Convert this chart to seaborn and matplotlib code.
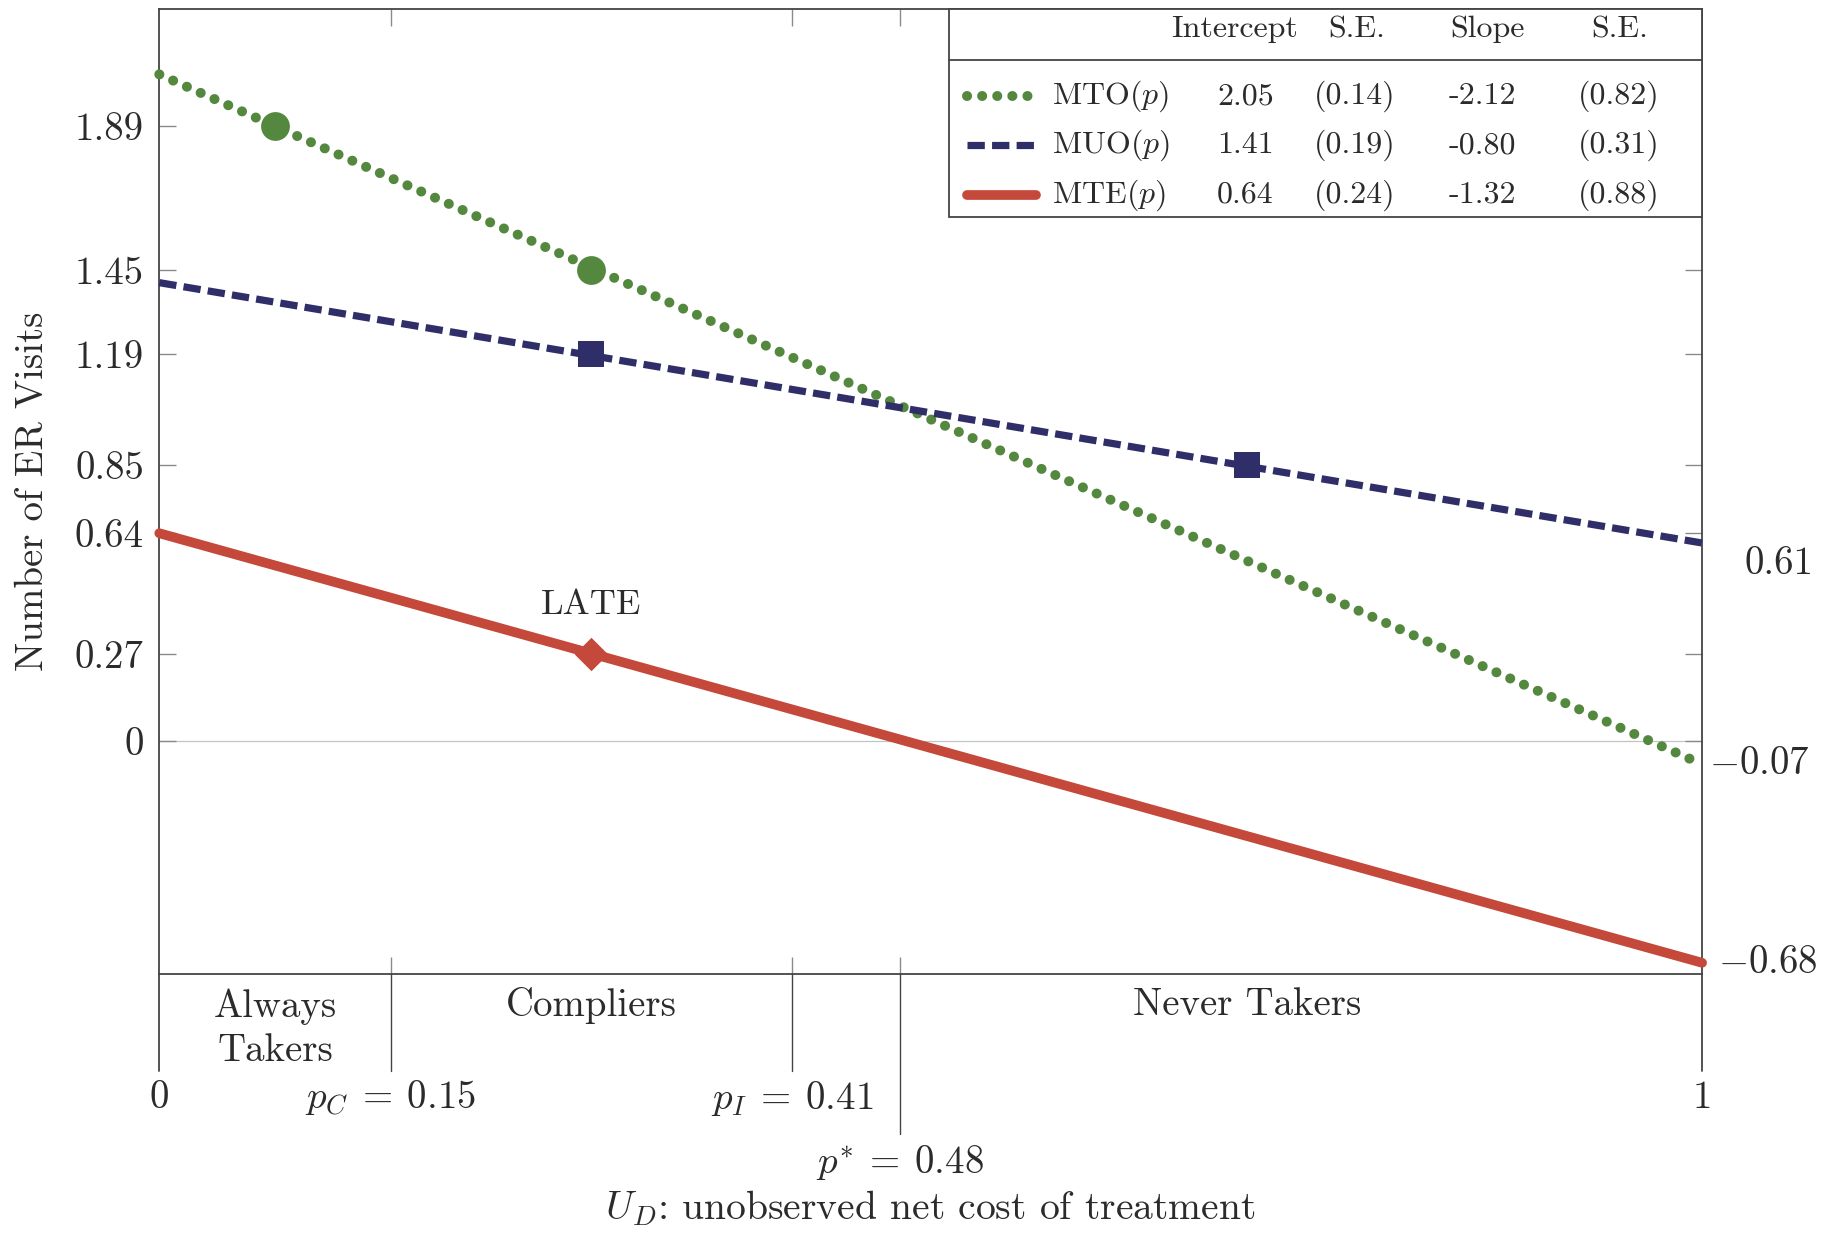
import matplotlib
matplotlib.use("Agg")
import matplotlib.pyplot as plt
from matplotlib.patches import Rectangle
from matplotlib.lines import Line2D
import pandas as pd
import seaborn as sns

# ---- curve values at the ends of the unit interval ----
p_ends = [0.0, 1.0]
mto_ends = [2.05, -0.07]
muo_ends = [1.41, 0.61]
mte_ends = [0.64, -0.68]

# ---- evaluated points at the group midpoints ----
mto_pts_p = [0.075, 0.28]
mto_pts_y = [1.89, 1.45]
muo_pts_p = [0.28, 0.705]
muo_pts_y = [1.19, 0.85]
late_p = [0.28]
late_y = [0.27]

# ---- estimates table ----
row_names = ["MTO", "MUO", "MTE"]
intercepts = ["2.05", "1.41", "0.64"]
intercept_se = ["(0.14)", "(0.19)", "(0.24)"]
slopes = ["-2.12", "-0.80", "-1.32"]
slope_se = ["(0.82)", "(0.31)", "(0.88)"]

# ---- axes annotations ----
y_ticks = [0, 0.27, 0.64, 0.85, 1.19, 1.45, 1.89]
y_tick_labels = ["0", "0.27", "0.64", "0.85", "1.19", "1.45", "1.89"]
cutoffs = [0.15, 0.41, 0.48]
cutoff_labels = [r"$p_C\:=\:0.15$", r"$p_I\:=\:0.41$", r"$p^{*}\:=\:0.48$"]
groups = ["Always\nTakers", "Compliers", "Never Takers"]
group_mid = [0.075, 0.28, 0.705]

GREEN = "#55883F"
NAVY = "#2F2E68"
RED = "#C5493A"
TEXT = "#2b2b2b"
SPINE = "#444444"
TICK = "#8a8a8a"

sns.set_theme(style="ticks")
plt.rcParams["font.family"] = ["cmr10", "DejaVu Serif"]
plt.rcParams["mathtext.fontset"] = "cm"
plt.rcParams["axes.unicode_minus"] = False
plt.rcParams["axes.formatter.use_mathtext"] = True

fig = plt.figure(figsize=(18.23, 12.33), dpi=100)
ax = fig.add_axes([0.08737, 0.21018, 0.8463, 0.78228])
ax.set_xlim(0, 1)
ax.set_ylim(-0.714, 2.25)

# zero reference line
ax.axhline(0, color="#c4c4c4", lw=0.9, zorder=0)

df = pd.DataFrame({
    "p": p_ends * 3,
    "value": mto_ends + muo_ends + mte_ends,
    "curve": ["MTO"] * 2 + ["MUO"] * 2 + ["MTE"] * 2,
})

line_styles = {
    "MTO": dict(color=GREEN, lw=7.2, ls=(0, (0.01, 1.5)), cap="round"),
    "MUO": dict(color=NAVY, lw=5.2, ls=(0, (2.4, 1.0)), cap="butt"),
    "MTE": dict(color=RED, lw=7.0, ls="-", cap="round"),
}
for name in ["MTO", "MUO", "MTE"]:
    st = line_styles[name]
    sub = df[df["curve"] == name]
    n_before = len(ax.lines)
    sns.lineplot(data=sub, x="p", y="value", ax=ax, color=st["color"],
                 linewidth=st["lw"], legend=False, zorder=3)
    ln = ax.lines[n_before]
    ln.set_linestyle(st["ls"])
    ln.set_dash_capstyle(st["cap"])
    ln.set_solid_capstyle(st["cap"])
    ln.set_clip_on(False)

sns.scatterplot(x=mto_pts_p, y=mto_pts_y, ax=ax, color=GREEN, marker="o",
                s=430, linewidth=0, zorder=4, clip_on=False)
sns.scatterplot(x=muo_pts_p, y=muo_pts_y, ax=ax, color=NAVY, marker="s",
                s=360, linewidth=0, zorder=4, clip_on=False)
sns.scatterplot(x=late_p, y=late_y, ax=ax, color=RED, marker="D",
                s=290, linewidth=0, zorder=4, clip_on=False)
ax.text(late_p[0], 0.418, "LATE", ha="center", va="center", fontsize=26,
        color=TEXT)

# ---- axes styling ----
ax.set_xlabel("")
ax.set_ylabel("")
ax.set_yticks(y_ticks)
ax.set_yticklabels(y_tick_labels)
ax.set_xticks(cutoffs)
ax.set_xticklabels([])
ax.tick_params(axis="both", which="both", direction="in", length=12,
               width=1.0, color=TICK, labelsize=28, labelcolor=TEXT,
               top=True, right=True, pad=11)
for sp in ax.spines.values():
    sp.set_color(SPINE)
    sp.set_linewidth(1.3)

xtr = ax.get_xaxis_transform()
# spines and cutoff markers continue below the plot box
for xv, y_end in [(0.0, -0.101), (1.0, -0.101)]:
    ax.plot([xv, xv], [0, y_end], transform=xtr, color=SPINE, lw=1.3,
            clip_on=False)
for xv, y_end in zip(cutoffs, [-0.101, -0.101, -0.166]):
    ax.plot([xv, xv], [0, y_end], transform=xtr, color=SPINE, lw=1.0,
            clip_on=False)

# group names beneath the plot box
for g, xm in zip(groups, group_mid):
    if "\n" in g:
        ax.text(xm, -0.0572, g, transform=xtr, ha="center", va="center",
                fontsize=28, color=TEXT, linespacing=1.3)
    else:
        ax.text(xm, -0.0325, g, transform=xtr, ha="center", va="center",
                fontsize=28, color=TEXT)

# x-axis value labels
ax.text(0.0, -0.129, "0", transform=xtr, ha="center", va="center",
        fontsize=28, color=TEXT)
ax.text(1.0, -0.129, "1", transform=xtr, ha="center", va="center",
        fontsize=28, color=TEXT)
for xv, lab, yy in zip(cutoffs, cutoff_labels, [-0.129, -0.129, -0.1955]):
    ax.text(xv, yy, lab, transform=xtr, ha="center", va="center",
            fontsize=28, color=TEXT)
ax.text(0.5, -0.243, r"$U_D$: unobserved net cost of treatment",
        transform=xtr, ha="center", va="center", fontsize=28.5, color=TEXT)

ax.text(-0.0821, 0.5, "Number of ER Visits", transform=ax.transAxes,
        rotation=90, ha="center", va="center", fontsize=28, color=TEXT)

# end-point values on the right
ytr = ax.get_yaxis_transform()
ax.text(1.0274, 0.545, "0.61", transform=ytr, ha="left", va="center",
        fontsize=28, color=TEXT)
ax.text(1.0045, mto_ends[1], r"$-0.07$", transform=ytr, ha="left",
        va="center", fontsize=28, color=TEXT)
ax.text(1.0106, mte_ends[1], r"$-0.68$", transform=ytr, ha="left",
        va="center", fontsize=28, color=TEXT)

# ---- estimates table in the upper right ----
tx0, ty0 = 0.5117, 0.7843
ax.add_patch(Rectangle((tx0, ty0), 1.0 - tx0, 1.0 - ty0,
                       transform=ax.transAxes, facecolor="white",
                       edgecolor=SPINE, lw=1.3, zorder=6, clip_on=False))
ax.plot([tx0, 1.0], [0.947, 0.947], transform=ax.transAxes, color=SPINE,
        lw=1.3, zorder=7)
head_y = 0.979
for txt, xc in zip(["Intercept", "S.E.", "Slope", "S.E."],
                   [0.697, 0.776, 0.861, 0.9465]):
    ax.text(xc, head_y, txt, transform=ax.transAxes, ha="center",
            va="center", fontsize=23, color=TEXT, zorder=8)

row_y = [0.9096, 0.859, 0.8072]
for i, name in enumerate(row_names):
    st = line_styles[name]
    yy = row_y[i]
    sample = Line2D([0.5235, 0.5685], [yy, yy], transform=ax.transAxes,
                    color=st["color"], lw=st["lw"], zorder=8)
    sample.set_linestyle(st["ls"])
    sample.set_dash_capstyle(st["cap"])
    sample.set_solid_capstyle(st["cap"])
    ax.add_line(sample)
    ax.text(0.5788, yy, name + r"$(p)$", transform=ax.transAxes, ha="left",
            va="center", fontsize=23, color=TEXT, zorder=8)
    for txt, xc in zip([intercepts[i], intercept_se[i], slopes[i], slope_se[i]],
                       [0.704, 0.7747, 0.8576, 0.9457]):
        ax.text(xc, yy, txt, transform=ax.transAxes, ha="center",
                va="center", fontsize=23, color=TEXT, zorder=8)

fig.savefig("out.png", dpi=100, facecolor="white")
